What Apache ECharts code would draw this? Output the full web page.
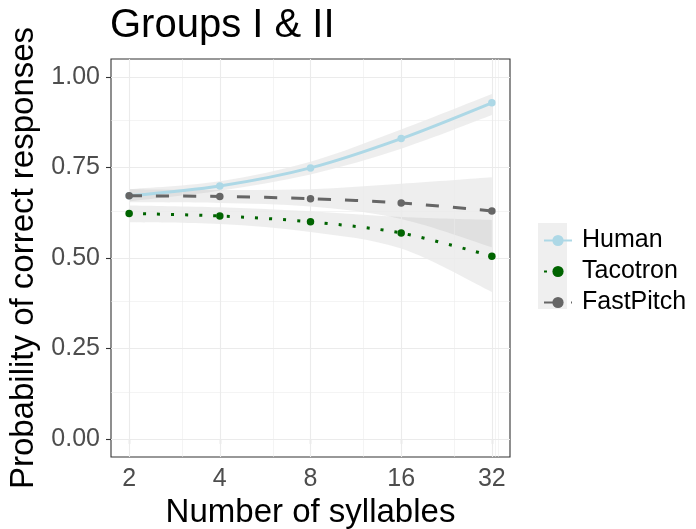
<!DOCTYPE html>
<html><head><meta charset="utf-8">
<script src="https://cdn.jsdelivr.net/npm/echarts@6/dist/echarts.min.js"></script>
<style>html,body{margin:0;padding:0;background:#fff}#c{width:696px;height:529px}</style>
</head><body><div id="c"></div>
<script>
var syllables = [2, 4, 8, 16, 32];
var xTicks = [2, 4, 8, 16, 32];
var xMinor = [3, 6, 12, 24, 32.8, 33.6];
var yTicks = [0, 0.25, 0.5, 0.75, 1];
var yMinor = [0.125, 0.375, 0.625, 0.875];

var human     = [0.672, 0.699, 0.749, 0.830, 0.929];
var humanLo   = [0.657, 0.686, 0.731, 0.802, 0.895];
var humanHi   = [0.690, 0.712, 0.766, 0.855, 0.953];
var tacotron  = [0.623, 0.616, 0.600, 0.569, 0.505];
var tacoLo    = [0.599, 0.594, 0.572, 0.526, 0.406];
var tacoHi    = [0.645, 0.640, 0.629, 0.613, 0.605];
var fastpitch = [0.672, 0.670, 0.664, 0.652, 0.630];
var fastLo    = [0.654, 0.652, 0.642, 0.608, 0.530];
var fastHi    = [0.690, 0.688, 0.690, 0.705, 0.723];

var FONT = 'Liberation Sans, Arial, sans-serif';
function pts(ys){ return syllables.map(function(x,i){return [x, ys[i]];}); }

function curve(p, start){
  var d = start ? ('M' + p[0][0] + ' ' + p[0][1]) : ('L' + p[0][0] + ' ' + p[0][1]);
  for (var i = 0; i < p.length - 1; i++) {
    var p0 = p[i-1] || p[i], p1 = p[i], p2 = p[i+1], p3 = p[i+2] || p[i+1];
    var c1x = p1[0] + (p2[0]-p0[0])/6, c1y = p1[1] + (p2[1]-p0[1])/6;
    var c2x = p2[0] - (p3[0]-p1[0])/6, c2y = p2[1] - (p3[1]-p1[1])/6;
    d += ' C' + c1x + ' ' + c1y + ' ' + c2x + ' ' + c2y + ' ' + p2[0] + ' ' + p2[1];
  }
  return d;
}

function bandSeries(name, lo, hi){
  return {
    type:'custom', name:name, data:[[syllables[0], lo[0]]], silent:true, z:1, clip:true,
    renderItem:function(params, api){
      var up = syllables.map(function(x,i){ return api.coord([x, hi[i]]); });
      var dn = syllables.map(function(x,i){ return api.coord([x, lo[i]]); }).reverse();
      var d = curve(up, true) + ' ' + curve(dn, false) + ' Z';
      return {type:'path', shape:{pathData:d}, style:{fill:'rgba(153,153,153,0.17)', stroke:null}};
    }
  };
}

function lineSeries(name, ys, color, type, z){
  return {type:'line', name:name, data:pts(ys), smooth:0.3, symbol:'circle', symbolSize:7.5,
    itemStyle:{color:color}, lineStyle:{color:color, width:3, type:type}, z:z};
}

var gridLines = [];
yTicks.forEach(function(v){ gridLines.push({yAxis:v, lineStyle:{width:1.1, color:'#ebebeb'}}); });
yMinor.forEach(function(v){ gridLines.push({yAxis:v, lineStyle:{width:0.55, color:'#ebebeb'}}); });
xTicks.forEach(function(v){ gridLines.push({xAxis:v, lineStyle:{width:1.1, color:'#ebebeb'}}); });
xMinor.forEach(function(v){ gridLines.push({xAxis:v, lineStyle:{width:0.55, color:'#ebebeb'}}); });

var series = [
  {type:'line', name:'grid', data:pts(human), symbol:'none', lineStyle:{opacity:0}, silent:true, z:0,
   markLine:{silent:true, symbol:['none','none'], label:{show:false}, animation:false,
     lineStyle:{type:'solid'}, data:gridLines}},
  bandSeries('bandHuman', humanLo, humanHi),
  bandSeries('bandTacotron', tacoLo, tacoHi),
  bandSeries('bandFastPitch', fastLo, fastHi),
  lineSeries('Human', human, '#ADD8E6', 'solid', 5),
  lineSeries('Tacotron', tacotron, '#006400', [3,11], 6),
  lineSeries('FastPitch', fastpitch, '#666666', [13,14], 7)
];

var chart = echarts.init(document.getElementById('c'), null, {renderer:'canvas'});
chart.setOption({
  animation:false,
  backgroundColor:'#ffffff',
  textStyle:{fontFamily:FONT},
  title:{text:'Groups I & II', left:110, top:6, padding:0,
    textStyle:{fontFamily:FONT, fontSize:40, fontWeight:'normal', color:'#000'}},
  grid:{left:111, right:186, top:59, bottom:72, containLabel:false, outerBoundsMode:'none',
    show:true, borderColor:'#333333', borderWidth:1.1, backgroundColor:'transparent'},
  legend:{
    data:['Human','Tacotron','FastPitch'], orient:'vertical', left:538, top:223,
    itemWidth:28, itemHeight:14, itemGap:6, selectedMode:false,
    textStyle:{fontFamily:FONT, fontSize:25, color:'#000', padding:[0,0,0,5]}
  },
  graphic:[{type:'rect', left:538, top:223, shape:{width:29, height:86}, style:{fill:'#efefef'}, z:-1}],
  xAxis:{
    type:'log', logBase:2, min:Math.pow(2,0.8), max:Math.pow(2,5.2),
    name:'Number of syllables', nameLocation:'middle', nameGap:33,
    nameTextStyle:{fontFamily:FONT, fontSize:33, color:'#000'},
    axisLine:{show:false},
    axisTick:{show:true, length:5, lineStyle:{color:'#333333', width:1.1}, customValues:xTicks},
    axisLabel:{fontFamily:FONT, fontSize:25, color:'#4d4d4d', margin:10, customValues:xTicks,
      formatter:function(v){return String(Math.round(v));}},
    splitLine:{show:false}, minorSplitLine:{show:false}
  },
  yAxis:{
    type:'value', min:-0.05, max:1.05,
    name:'Probability of correct responses', nameLocation:'middle', nameGap:61, nameRotate:90,
    nameTextStyle:{fontFamily:FONT, fontSize:33, color:'#000'},
    axisLine:{show:false},
    axisTick:{show:true, length:5, lineStyle:{color:'#333333', width:1.1}, customValues:yTicks},
    axisLabel:{fontFamily:FONT, fontSize:25, color:'#4d4d4d', margin:11, customValues:yTicks,
      formatter:function(v){return v.toFixed(2);}},
    splitLine:{show:false}
  },
  series:series
});
</script></body></html>
